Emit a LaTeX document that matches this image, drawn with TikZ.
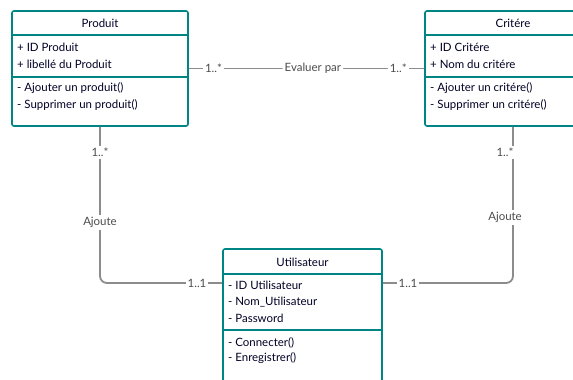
\documentclass[tikz,border=0pt]{standalone}
\usepackage{fontspec}
\setmainfont{Lato}
\begin{document}
\begin{tikzpicture}[x=1bp,y=-1bp,
  font=\fontsize{11.5}{13}\selectfont,
  classbox/.style={draw=teal!70!cyan!80!black, line width=1.6bp, rounded corners=2bp, fill=white, inner sep=0pt},
  divider/.style={draw=teal!70!cyan!80!black, line width=1.6bp},
  member/.style={anchor=west, inner sep=0pt, text=black!85!blue},
  ctitle/.style={inner sep=0pt, text=black!85!blue},
  conn/.style={draw=black!45, line width=1.8bp, rounded corners=7bp},
  mult/.style={fill=white, inner sep=2bp, text=black!70}
]
\useasboundingbox (0,0) rectangle (573,379);
\clip (0,0) rectangle (573,379);

% class boxes
\node[classbox, minimum width=176bp, minimum height=115bp] (produit) at (100,68.5) {};
\node[classbox, minimum width=176bp, minimum height=115bp] (critere) at (513,68.5) {};
\node[classbox, minimum width=159bp, minimum height=160bp] (user) at (302.5,329) {};

% Produit
\draw[divider] (12,35) -- (188,35);
\draw[divider] (12,77) -- (188,77);
\node[ctitle] (pT) at (100,23.5) {Produit};
\node[member] (pa1) at (17,47.5) {+ ID Produit};
\node[member] (pa2) at (17,64.5) {+ libellé du Produit};
\node[member] (pm1) at (17,88.5) {- Ajouter un produit()};
\node[member] (pm2) at (17,105.5) {- Supprimer un produit()};

% Critère
\draw[divider] (425,35) -- (601,35);
\draw[divider] (425,77) -- (601,77);
\node[ctitle] (cT) at (513,23.5) {Critére};
\node[member] (ca1) at (430,47.5) {+ ID Critére};
\node[member] (ca2) at (430,64.5) {+ Nom du critére};
\node[member] (cm1) at (430,88.5) {- Ajouter un critére()};
\node[member] (cm2) at (430,105.5) {- Supprimer un critére()};

% Utilisateur
\draw[divider] (223,274) -- (382,274);
\draw[divider] (223,330) -- (382,330);
\node[ctitle] (uT) at (302.5,262.5) {Utilisateur};
\node[member] (ua1) at (228,285.5) {- ID Utilisateur};
\node[member] (ua2) at (228,302) {- Nom\_Utilisateur};
\node[member] (ua3) at (228,318.5) {- Password};
\node[member] (um1) at (228,342.5) {- Connecter()};
\node[member] (um2) at (228,358.5) {- Enregistrer()};

% attachment points on the Utilisateur box
\coordinate (uL) at (user.west |- 0,283);
\coordinate (uR) at (user.east |- 0,283);

% associations
\draw[conn] (produit.east) -- (critere.west)
  node[mult, pos=0.105] (m1) {1..*}
  node[mult, pos=0.527] (ev) {Evaluer par}
  node[mult, pos=0.89] (m2) {1..*};

\draw[conn] (produit.south) -- (produit.south |- uL) -- (uL);
\node[mult] (m3) at (100,152.5) {1..*};
\node[mult] (a1) at (100,222.5) {Ajoute};
\node[mult] (m4) at (197,283) {1..1};

\draw[conn] (critere.south) -- (critere.south |- uR) -- (uR);
\node[mult] (m5) at (505,152.5) {1..*};
\node[mult] (a2) at (505,217.5) {Ajoute};
\node[mult] (m6) at (408,283) {1..1};
\end{tikzpicture}
\end{document}
